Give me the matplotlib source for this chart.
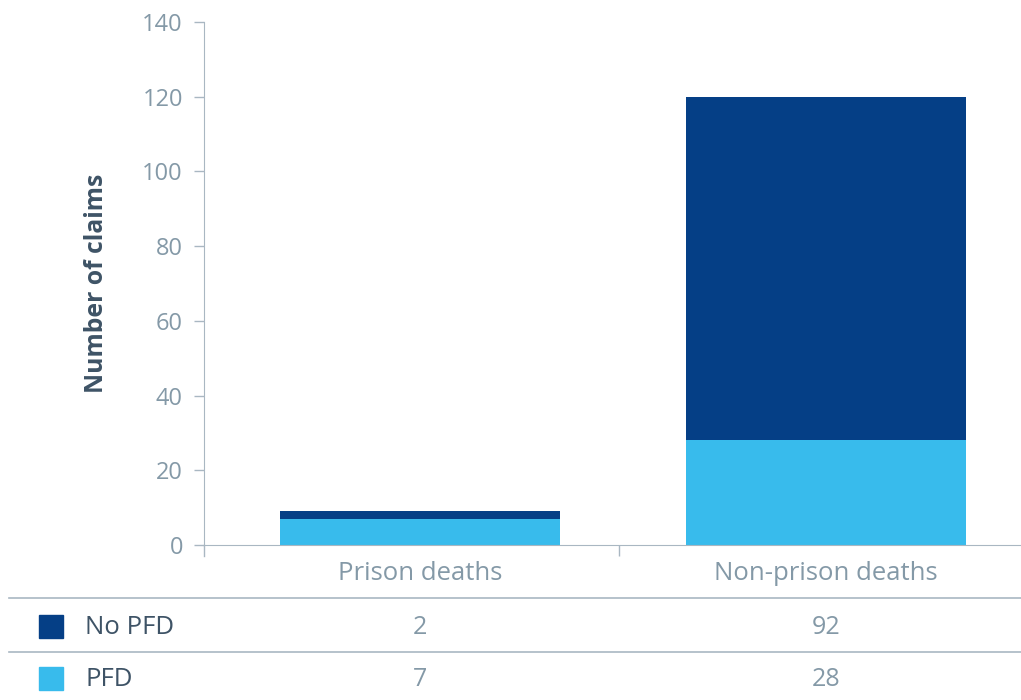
import matplotlib
matplotlib.use("Agg")
import matplotlib.pyplot as plt
from matplotlib.patches import Rectangle
from matplotlib.lines import Line2D

categories = ["Prison deaths", "Non-prison deaths"]
series_names = ["No PFD", "PFD"]
pfd = [7, 28]
no_pfd = [2, 92]
y_ticks = [0, 20, 40, 60, 80, 100, 120, 140]

dark_blue = "#053f86"
light_blue = "#38bbec"
tick_color = "#8499a7"
label_color = "#3e5366"
spine_color = "#a9b7c2"

plt.rcParams["font.family"] = ["Open Sans", "DejaVu Sans"]

fig = plt.figure(figsize=(10.21, 7.0), dpi=100)
ax = fig.add_axes([0.1998, 0.2214, 0.8002, 0.7471])

x = list(range(len(categories)))
width = 0.69
ax.bar(x, pfd, width=width, color=light_blue, zorder=2)
ax.bar(x, no_pfd, width=width, bottom=pfd, color=dark_blue, zorder=2)

ax.set_ylim(0, 140)
ax.set_xlim(-0.532, 1.48)
ax.set_yticks(y_ticks)
ax.set_yticklabels([str(v) for v in y_ticks])
ax.tick_params(axis="y", length=7.2, width=1, color=spine_color,
               labelcolor=tick_color, labelsize=17, pad=8)
ax.set_xticks([0.49])
ax.set_xticklabels([""])
ax.tick_params(axis="x", direction="out", length=8, width=1, color=spine_color)

for side in ("top", "right"):
    ax.spines[side].set_visible(False)
ax.spines["left"].set_color(spine_color)
ax.spines["bottom"].set_color(spine_color)

# left spine extends slightly below the x axis
ax.add_line(Line2D([-0.532, -0.532], [0, -3], color=spine_color, lw=1,
                   clip_on=False, transform=ax.transData))

ax.set_ylabel("Number of claims", fontsize=17.8, fontweight="bold",
              color=label_color, labelpad=24)

# category labels below the axis
for xi, cat in zip(x, categories):
    ax.text(xi, -7.5, cat, ha="center", va="center", fontsize=18.5,
            color=tick_color, transform=ax.transData, clip_on=False)

# data table under the chart
def fy(py):
    return 1 - py / 700.0

for py in (598, 652):
    fig.add_artist(Line2D([9 / 1021, 1.0], [fy(py), fy(py)], color=spine_color,
                          lw=1.2, transform=fig.transFigure))

rows = [("No PFD", dark_blue, no_pfd, 627), ("PFD", light_blue, pfd, 679)]
for name, color, vals, py in rows:
    fig.add_artist(Rectangle((39 / 1021, fy(py + 11)), 24 / 1021, 23 / 700,
                             color=color, transform=fig.transFigure))
    fig.text(85 / 1021, fy(py), name, ha="left", va="center", fontsize=18.5,
             color=label_color)
    for xi, v in zip(x, vals):
        px = ax.transData.transform((xi, 0))[0]
        fig.text(px / fig.bbox.width, fy(py), str(v), ha="center", va="center",
                 fontsize=18, color=tick_color)

fig.savefig("out.png", dpi=100, facecolor="white")
